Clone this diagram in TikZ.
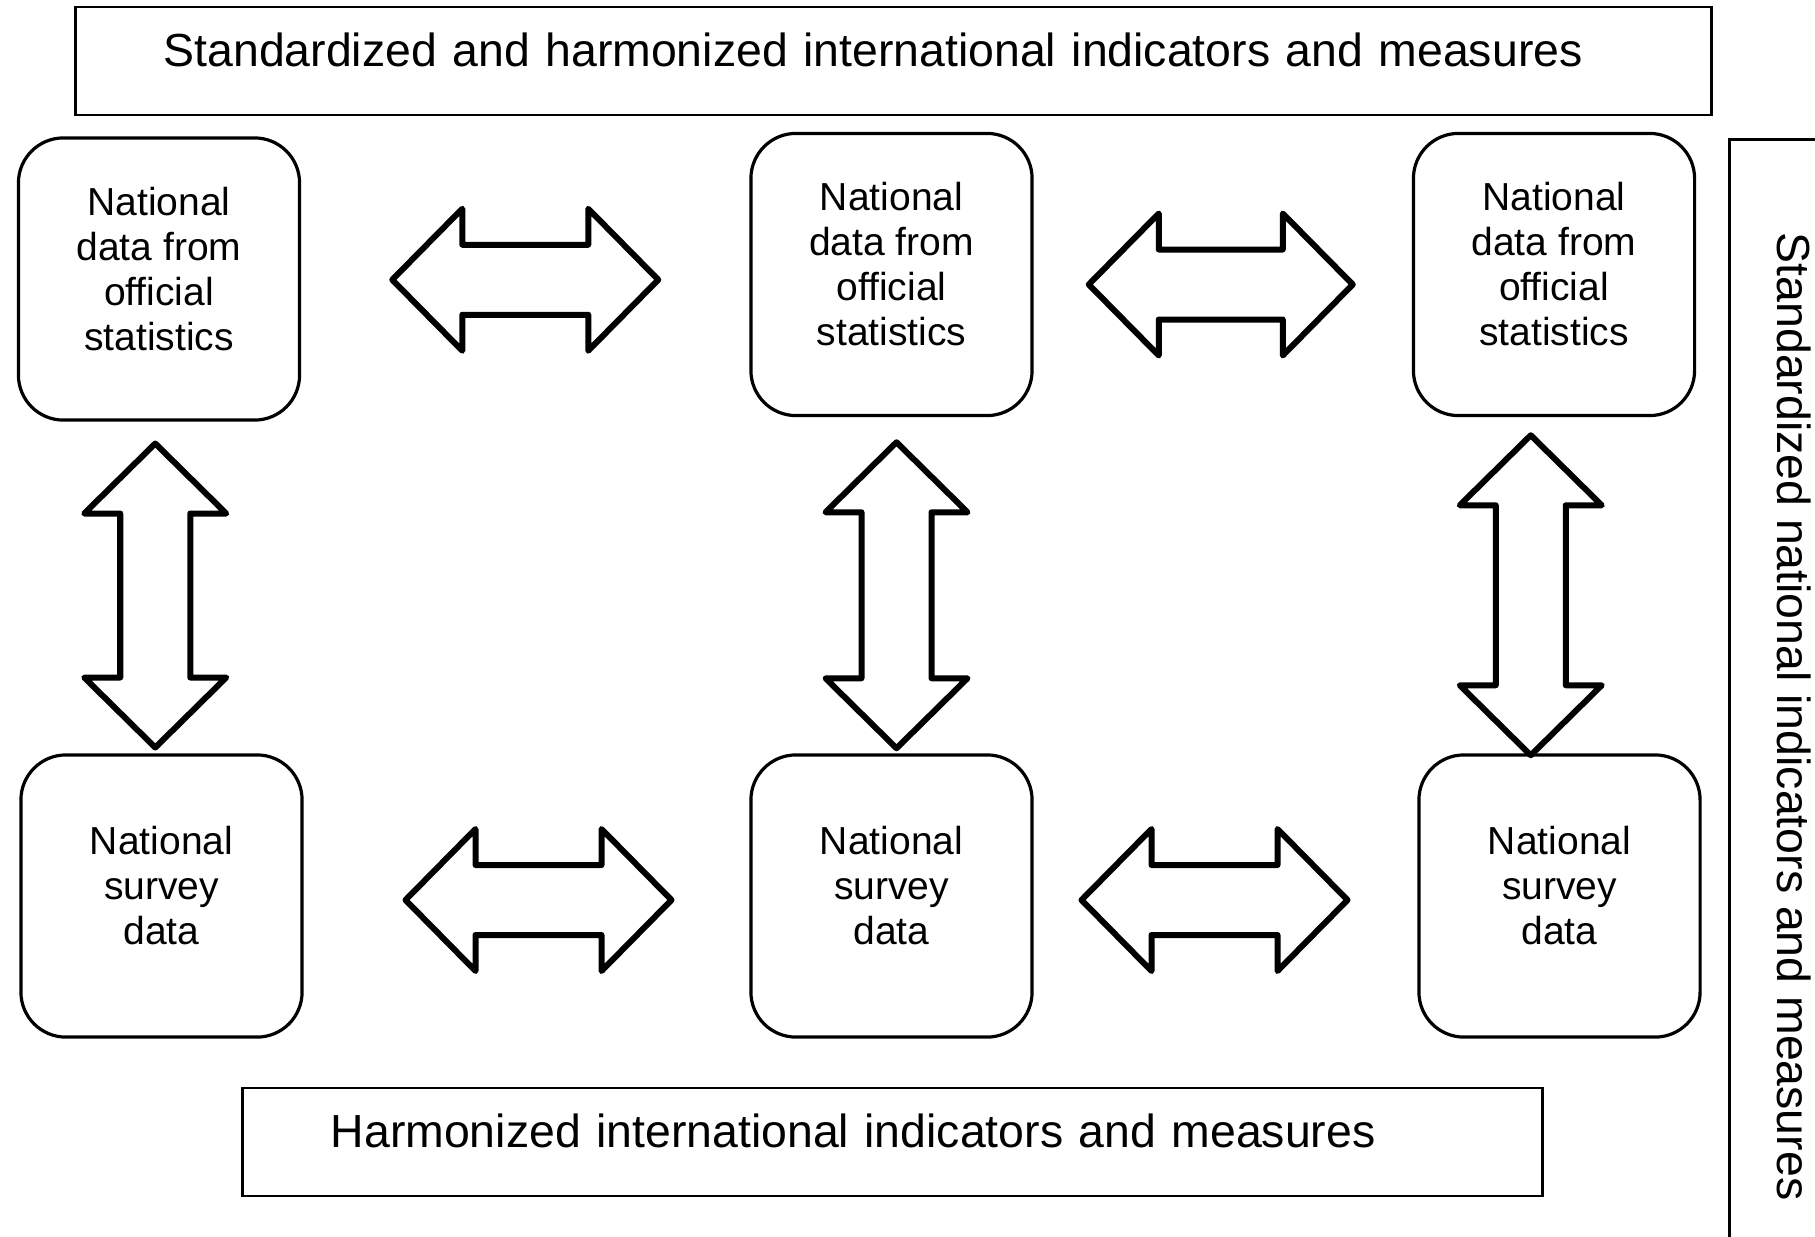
\documentclass[tikz,border=0pt]{standalone}
\usepackage{fontspec}
\setmainfont{Liberation Sans}
\usetikzlibrary{calc}
\usetikzlibrary{positioning}

\tikzset{
  databox/.style={draw, line width=0.032cm, rounded corners=0.45cm,
    minimum width=2.81cm, minimum height=2.82cm, align=center,
    text depth=0.21cm, font=\fontsize{11.1}{12.8}\selectfont},
  banner/.style={draw, line width=0.025cm, minimum height=1.08cm,
    inner xsep=0.88cm, align=left, text depth=0.23cm,
    font=\fontsize{13.2}{15}\selectfont},
  sidebox/.style={draw, line width=0.025cm, font=\fontsize{13.2}{15}\selectfont},
  arrowline/.style={line width=0.06cm, line join=round},
}

% #1 centre, #2 half length, #3 angle
\newcommand{\dblarrow}[3]{%
  \begin{scope}[shift={(#1)}, rotate=#3]
    \draw[arrowline] (-#2,0) -- (-#2+70,-71) -- (-#2+70,-35) -- (#2-70,-35)
      -- (#2-70,-71) -- (#2,0) -- (#2-70,71) -- (#2-70,35) -- (-#2+70,35)
      -- (-#2+70,71) -- cycle;
  \end{scope}}

\begin{document}
\begin{tikzpicture}[x=0.01cm, y=-0.01cm]
  \useasboundingbox (0,0) rectangle (1815,1236);
  \clip (0,0) rectangle (1815,1236);

  % Banners round the grid
  \node[banner, text width=14.59cm] (intl) at (893.5,61)
    {Standardized and harmonized international indicators and measures};
  \node[banner, text width=11.23cm] (harm) at (892.5,1142)
    {Harmonized international indicators and measures};
  \node[sidebox, rotate=-90, anchor=south west, minimum width=11.54cm,
    minimum height=1.3cm] (natl) at (1728,138)
    {Standardized national indicators and measures};

  % Official statistics (top row)
  \node[databox] (A1) at (159,279) {National\\data from\\official\\statistics};
  \node[databox] (A2) at (891.5,274.5) {National\\data from\\official\\statistics};
  \node[databox] (A3) at (1554,274.5) {National\\data from\\official\\statistics};

  % Survey data (bottom row)
  \node[databox] (B1) at (161.5,896) {National\\survey\\data};
  \node[databox] (B2) at (891.5,896) {National\\survey\\data};
  \node[databox] (B3) at (1559.5,896) {National\\survey\\data};

  % Centres of the double arrows
  \coordinate (h1) at ($(A1.east)!0.5!(A2.west)+(0,3)$);
  \coordinate (h2) at ($(A2.east)!0.5!(A3.west)+(-2,10)$);
  \coordinate (h3) at ($(B1.east)!0.5!(B2.west)+(12,4)$);
  \coordinate (h4) at ($(B2.east)!0.5!(B3.west)+(-11,4)$);
  \coordinate (v1) at ($(A1.south)!0.5!(B1.north)+(-5,8)$);
  \coordinate (v2) at ($(A2.south)!0.5!(B2.north)+(5,10)$);
  \coordinate (v3) at ($(A3.south)!0.5!(B3.north)+(-26,10)$);

  \dblarrow{h1}{133}{0}
  \dblarrow{h2}{132}{0}
  \dblarrow{h3}{133}{0}
  \dblarrow{h4}{133}{0}
  \dblarrow{v1}{152}{90}
  \dblarrow{v2}{153}{90}
  \dblarrow{v3}{160}{90}
\end{tikzpicture}
\end{document}
